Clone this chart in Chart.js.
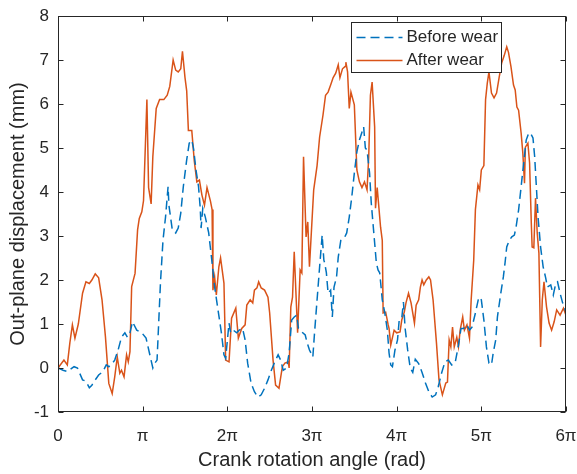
<!DOCTYPE html>
<html>
<head>
<meta charset="utf-8">
<style>
  body { margin: 0; background: #fff; }
  canvas { display: block; }
</style>
</head>
<body>
<canvas id="wear" width="577" height="474"></canvas>
<script src="https://cdn.jsdelivr.net/npm/chart.js@4/dist/chart.umd.min.js"></script>
<script>
// crank angle in units of pi, displacement in mm
var beforeX = [0,0.06,0.11,0.19,0.23,0.29,0.33,0.37,0.40,0.44,0.48,0.53,0.57,0.60,0.64,0.67,0.71,0.75,0.79,0.82,0.85,0.88,0.93,0.99,1.04,1.08,1.12,1.14,1.17,1.21,1.24,1.27,1.30,1.31,1.35,1.39,1.42,1.45,1.48,1.52,1.55,1.58,1.60,1.63,1.66,1.68,1.69,1.71,1.74,1.78,1.82,1.85,1.89,1.93,1.96,1.98,2.02,2.04,2.07,2.11,2.14,2.18,2.21,2.24,2.28,2.32,2.36,2.40,2.44,2.48,2.52,2.56,2.60,2.63,2.66,2.70,2.73,2.76,2.79,2.82,2.84,2.88,2.92,2.94,2.97,3.01,3.03,3.06,3.09,3.12,3.14,3.15,3.17,3.19,3.22,3.24,3.26,3.29,3.31,3.34,3.38,3.41,3.44,3.47,3.50,3.53,3.56,3.59,3.61,3.63,3.65,3.68,3.70,3.73,3.76,3.78,3.80,3.83,3.86,3.89,3.91,3.93,3.95,3.98,4.01,4.03,4.06,4.08,4.10,4.13,4.16,4.19,4.22,4.26,4.30,4.34,4.38,4.42,4.46,4.49,4.53,4.57,4.61,4.65,4.69,4.73,4.76,4.79,4.83,4.86,4.89,4.93,4.97,5.00,5.03,5.06,5.09,5.12,5.14,5.17,5.19,5.23,5.26,5.28,5.30,5.33,5.36,5.39,5.41,5.44,5.47,5.50,5.53,5.56,5.58,5.61,5.63,5.65,5.67,5.70,5.73,5.76,5.78,5.82,5.85,5.88,5.90,5.93,5.96,6.00];
var beforeY = [0,-0.05,-0.08,0.03,0,-0.27,-0.3,-0.45,-0.39,-0.27,-0.16,-0.08,0.07,0.03,0.1,0.18,0.41,0.7,0.8,0.7,0.8,1.05,0.86,0.8,0.68,0.34,0.0,0.1,0.18,1.93,2.9,3.43,4.12,3.7,3.14,3.07,3.18,3.52,4.12,4.73,5.11,5.18,5.0,4.5,4.12,3.63,3.18,3.63,3.43,3.07,2.39,1.84,1.32,0.8,0.3,0.22,1.02,0.8,0.86,0.8,0.86,0.9,0.64,0.11,-0.34,-0.54,-0.66,-0.61,-0.46,-0.27,-0.05,0.14,0.3,0.18,-0.05,0,0.34,1.09,1.16,1.2,0.9,0.82,0.75,0.59,0.41,0.25,0.8,1.55,2.3,3.02,2.45,2.39,2.16,1.7,1.77,1.16,1.84,2.07,2.52,2.9,2.95,3.07,3.43,3.89,4.43,4.91,5.18,5.36,5.48,5.0,4.95,4.43,3.75,3.07,2.39,2.23,2.16,1.55,1.25,0.86,0.34,0.07,0.03,0.41,0.64,1.09,1.13,1.5,0.9,0.41,0.0,-0.1,0.2,0.1,-0.1,-0.34,-0.54,-0.66,-0.61,-0.43,-0.12,0.14,0.18,0.07,0.11,0.52,0.9,0.9,0.98,0.86,0.93,1.25,1.61,1.55,1.09,0.48,0.11,0.07,0.34,0.64,1.16,1.7,2.07,2.39,2.75,2.9,2.98,3.02,3.2,3.59,4.12,4.66,5.18,5.34,5.34,5.23,4.8,4.12,3.43,2.75,2.3,2.05,1.84,1.89,1.66,1.93,1.96,1.7,1.48,1.27];

var afterX = [0,0.07,0.11,0.14,0.17,0.20,0.24,0.29,0.33,0.37,0.40,0.44,0.48,0.52,0.56,0.60,0.64,0.67,0.70,0.73,0.75,0.78,0.81,0.83,0.85,0.87,0.91,0.94,0.96,0.99,1.01,1.05,1.07,1.10,1.12,1.16,1.20,1.25,1.29,1.32,1.36,1.39,1.42,1.45,1.47,1.50,1.52,1.54,1.58,1.61,1.64,1.67,1.70,1.73,1.76,1.80,1.82,1.83,1.85,1.87,1.90,1.92,1.96,1.98,2.02,2.05,2.10,2.13,2.17,2.21,2.23,2.27,2.30,2.32,2.35,2.37,2.40,2.44,2.48,2.50,2.54,2.57,2.61,2.65,2.68,2.72,2.73,2.75,2.77,2.79,2.83,2.86,2.88,2.90,2.93,2.95,2.97,3.02,3.06,3.09,3.13,3.16,3.19,3.22,3.25,3.28,3.31,3.33,3.36,3.39,3.40,3.42,3.44,3.46,3.50,3.53,3.56,3.59,3.62,3.65,3.67,3.69,3.71,3.74,3.75,3.77,3.81,3.83,3.84,3.87,3.90,3.91,3.93,3.97,4.00,4.04,4.06,4.09,4.11,4.14,4.17,4.21,4.23,4.26,4.28,4.30,4.32,4.35,4.38,4.40,4.43,4.47,4.50,4.54,4.58,4.60,4.62,4.64,4.66,4.68,4.71,4.73,4.75,4.78,4.80,4.83,4.86,4.88,4.91,4.93,4.96,4.98,5.00,5.03,5.05,5.07,5.09,5.12,5.15,5.18,5.21,5.24,5.27,5.30,5.32,5.35,5.38,5.40,5.42,5.44,5.47,5.49,5.51,5.52,5.55,5.57,5.59,5.60,5.62,5.64,5.66,5.68,5.70,5.72,5.74,5.77,5.80,5.83,5.86,5.89,5.93,5.97,6.00];
var afterY = [0,0.18,0.07,0.57,0.98,0.68,1.0,1.7,1.96,1.92,2.0,2.14,2.05,1.55,0.72,-0.35,-0.58,-0.2,0.25,-0.12,-0.05,-0.2,0.3,0.14,0.37,1.85,2.15,3.14,3.4,3.55,3.8,6.1,4.1,3.73,4.8,5.9,6.1,6.1,6.2,6.4,7.0,6.77,6.73,6.8,7.2,6.6,6.3,5.4,5.4,4.7,4.23,4.27,3.93,3.7,4.1,3.8,3.6,1.77,2.07,1.66,2.3,2.5,1.93,0.18,0.14,1.13,1.36,0.68,0.9,0.98,1.43,1.55,1.48,1.77,1.82,1.96,1.82,1.77,1.61,1.25,0.18,-0.39,-0.46,0.03,0.11,0.14,0,1.39,1.61,2.64,0.8,2.23,2.16,4.8,2.98,3.32,2.3,4.05,4.6,5.25,5.75,6.2,6.27,6.43,6.6,6.7,6.89,6.6,6.8,6.85,6.95,6.73,5.9,6.27,5.98,4.5,4.23,4.1,4.23,4.05,4.8,6.2,6.5,5.48,3.63,4.1,3.2,2.9,1.25,1.27,0.98,0.9,0.52,0.86,0.8,0.82,1.09,1.27,1.48,1.7,1.48,1.02,1.43,1.55,1.84,2.0,1.89,2.0,2.07,2.0,1.55,0.57,-0.27,-0.61,-0.34,-0.32,0.64,0.48,0.93,0.48,0.7,0.48,0.86,1.16,0.86,0.98,0.68,1.55,2.45,3.6,4.16,4.05,4.5,4.6,6.1,6.47,6.73,6.25,6.14,6.25,6.6,6.93,7.1,7.3,7.18,6.85,6.43,6.32,5.93,5.86,5.34,4.89,4.2,5.02,5.11,4.66,3.3,2.75,2.73,3.86,3.07,2.61,0.48,1.55,1.96,1.39,1.02,0.86,1.05,1.32,1.2,1.36,1.2];

var seriesNames = ['Before wear', 'After wear'];
var seriesColors = ['#0072BD', '#D95319'];

function pts(xs, ys) {
  return xs.map(function(v, i){ return {x: v, y: ys[i]}; });
}

var ink = '#262626';
Chart.defaults.font.family = '"Liberation Sans", Arial, sans-serif';
Chart.defaults.color = ink;

// matlab style box, inward ticks and legend inside the axes
var boxPlugin = {
  id: 'box',
  afterDraw: function(chart) {
    var ctx = chart.ctx, a = chart.chartArea;
    var sx = chart.scales.x, sy = chart.scales.y;
    ctx.save();
    ctx.strokeStyle = ink;
    ctx.lineWidth = 1;
    var L = Math.round(a.left) + 0.5, R = Math.round(a.right) - 0.5;
    var T = Math.round(a.top) + 0.5, B = Math.round(a.bottom) - 0.5;
    ctx.strokeRect(L, T, R - L, B - T);
    ctx.beginPath();
    sx.ticks.forEach(function(t){
      var px = Math.round(sx.getPixelForValue(t.value)) + 0.5;
      ctx.moveTo(px, B); ctx.lineTo(px, B - 5);
      ctx.moveTo(px, T); ctx.lineTo(px, T + 5);
    });
    sy.ticks.forEach(function(t){
      var py = Math.round(sy.getPixelForValue(t.value)) + 0.5;
      ctx.moveTo(L, py); ctx.lineTo(L + 5, py);
      ctx.moveTo(R, py); ctx.lineTo(R - 5, py);
    });
    ctx.stroke();

    // legend
    var lx = Math.round(a.right) - 215 + 0.5, ly = Math.round(a.top) + 6 + 0.5;
    ctx.fillStyle = '#fff';
    ctx.fillRect(lx, ly, 150, 50);
    ctx.strokeRect(lx, ly, 150, 50);
    ctx.font = '17px "Liberation Sans", Arial, sans-serif';
    ctx.textBaseline = 'middle';
    chart.data.datasets.forEach(function(ds, i){
      var yy = ly + 15 + i * 23;
      ctx.strokeStyle = ds.borderColor;
      ctx.lineWidth = 1.5;
      ctx.setLineDash(ds.borderDash || []);
      ctx.beginPath();
      ctx.moveTo(lx + 5, yy); ctx.lineTo(lx + 51, yy);
      ctx.stroke();
      ctx.setLineDash([]);
      ctx.fillStyle = ink;
      ctx.fillText(ds.label, lx + 55, yy);
    });
    ctx.restore();
  }
};

new Chart(document.getElementById('wear'), {
  type: 'line',
  data: {
    datasets: [{
      label: seriesNames[0],
      data: pts(beforeX, beforeY),
      borderColor: seriesColors[0],
      borderWidth: 1.5,
      borderDash: [9, 5],
      pointRadius: 0,
      fill: false
    }, {
      label: seriesNames[1],
      data: pts(afterX, afterY),
      borderColor: seriesColors[1],
      borderWidth: 1.5,
      pointRadius: 0,
      fill: false
    }]
  },
  options: {
    responsive: false,
    animation: false,
    devicePixelRatio: 1,
    layout: { padding: { top: 16, right: 11, left: 0, bottom: 0 } },
    plugins: { legend: { display: false }, tooltip: { enabled: false } },
    scales: {
      x: {
        type: 'linear', min: 0, max: 6,
        grid: { display: false, drawTicks: false },
        border: { display: false },
        ticks: {
          stepSize: 1, padding: 14, font: { size: 17 },
          callback: function(v){ return v === 0 ? '0' : (v === 1 ? 'π' : v + 'π'); }
        },
        title: { display: true, text: 'Crank rotation angle (rad)', font: { size: 20 }, padding: { top: 0, bottom: 2 } },
        afterFit: function(s){ s.height = 62; s.paddingLeft = 0; s.paddingRight = 0; }
      },
      y: {
        min: -1, max: 8,
        grid: { display: false, drawTicks: false },
        border: { display: false },
        ticks: { stepSize: 1, padding: 9, font: { size: 17 } },
        title: { display: true, text: 'Out-plane displacement (mm)', font: { size: 20 }, padding: { top: 6, bottom: 0 } },
        afterFit: function(s){ s.width = 58; s.paddingTop = 0; s.paddingBottom = 0; }
      }
    }
  },
  plugins: [boxPlugin]
});
</script>
</body>
</html>
